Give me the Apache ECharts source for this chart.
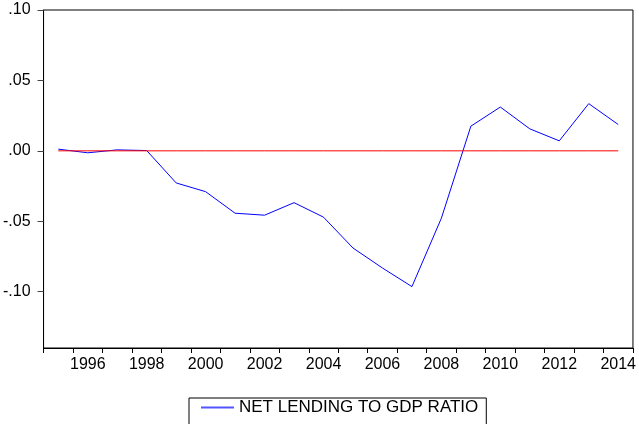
<!DOCTYPE html>
<html>
<head>
<meta charset="utf-8">
<script src="https://cdn.jsdelivr.net/npm/echarts@6/dist/echarts.min.js"></script>
<style>
  html, body { margin: 0; padding: 0; background: #fff; }
  #chart { width: 639px; height: 424px; }
</style>
</head>
<body>
<div id="chart"></div>
<script>
const years = ['1995', '1996', '1997', '1998', '1999', '2000', '2001', '2002', '2003', '2004',
  '2005', '2006', '2007', '2008', '2009', '2010', '2011', '2012', '2013', '2014']
const netLending = [0.0012, -0.0014, 0.0007, 0.0002, -0.0228, -0.029, -0.0443, -0.0457, -0.0368, -0.0471,
  -0.069, -0.0832, -0.0964, -0.0478, 0.0175, 0.0311, 0.0156, 0.0071, 0.0335, 0.0187]
const zeroLine = [0, 0, 0, 0, 0, 0, 0, 0, 0, 0, 0, 0, 0, 0, 0, 0, 0, 0, 0, 0]
const yTicks = [-0.1, -0.05, 0, 0.05, 0.1]

const fmt = v => v.toFixed(2).replace('0.', '.')

var myChart = echarts.init(document.getElementById('chart'))
var option = {
  animation: false,
  textStyle: { fontFamily: 'Liberation Sans, Arial, sans-serif' },
  grid: {
    left: 43,
    right: 6,
    top: 10,
    bottom: 76,
    show: true,
    borderColor: '#000',
    borderWidth: 1
  },
  legend: {
    data: ['NET LENDING TO GDP RATIO'],
    left: 189,
    top: 398,
    padding: [1, 8, 30, 11],
    borderColor: '#000',
    borderWidth: 1,
    itemWidth: 33,
    itemHeight: 14,
    textStyle: { fontSize: 17, color: '#000' },
    itemStyle: { opacity: 0 },
    lineStyle: { color: '#5555ff' }
  },
  xAxis: {
    type: 'category',
    data: years,
    boundaryGap: true,
    axisLine: { onZero: false, lineStyle: { color: '#000', width: 1 } },
    axisTick: { show: true, interval: 0, length: 5, lineStyle: { color: '#000', width: 1 } },
    axisLabel: {
      interval: (index) => index % 2 === 1,
      margin: 9,
      fontSize: 16,
      color: '#000'
    },
    splitLine: { show: false }
  },
  yAxis: {
    type: 'value',
    min: -0.14,
    max: 0.1,
    axisLine: { show: true, onZero: false, lineStyle: { color: '#000', width: 1 } },
    // ticks only at the labelled values, min isn't a multiple of 0.05
    axisTick: { show: true, length: 6, customValues: yTicks, lineStyle: { color: '#444', width: 1 } },
    axisLabel: {
      customValues: yTicks,
      formatter: fmt,
      margin: 13,
      fontSize: 16,
      color: '#000'
    },
    splitLine: { show: false }
  },
  series: [
    {
      name: 'NET LENDING TO GDP RATIO',
      type: 'line',
      data: netLending,
      symbol: 'none',
      lineStyle: { color: '#0000ff', width: 1 },
      itemStyle: { color: '#0000ff' }
    },
    {
      name: 'zero',
      type: 'line',
      data: zeroLine,
      symbol: 'none',
      lineStyle: { color: '#ff0000', width: 1 },
      itemStyle: { color: '#ff0000' }
    }
  ]
}
option && myChart.setOption(option)
</script>
</body>
</html>
